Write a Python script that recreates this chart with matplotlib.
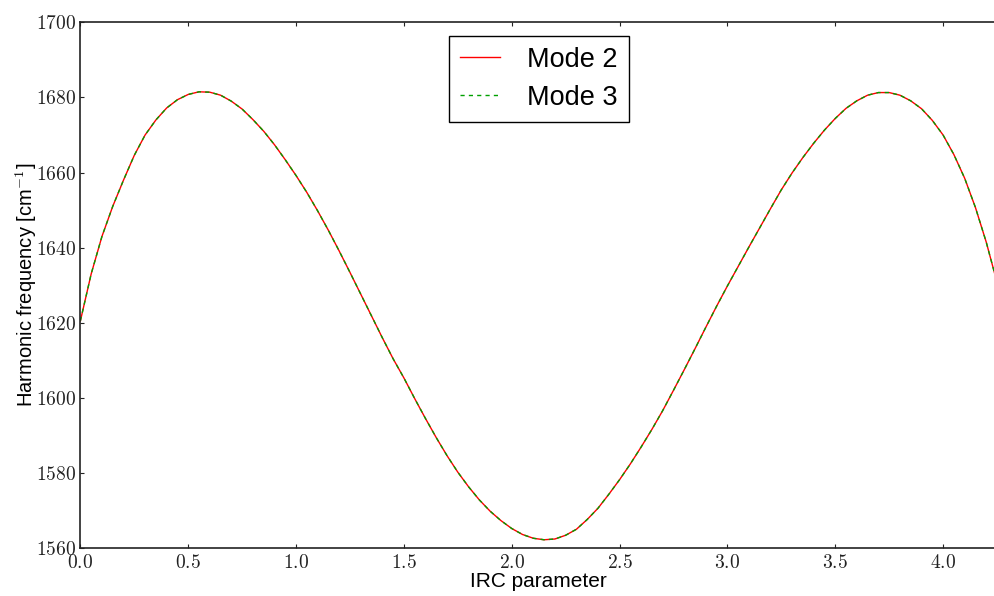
import numpy as np
import matplotlib
matplotlib.use("Agg")
import matplotlib.pyplot as plt
from matplotlib.ticker import FuncFormatter

plt.rcParams['font.family'] = ['Liberation Sans', 'DejaVu Sans']
plt.rcParams['mathtext.fontset'] = 'cm'

# IRC scan, step 0.05
irc = [0.00, 0.05, 0.10, 0.15, 0.20, 0.25, 0.30, 0.35, 0.40, 0.45,
       0.50, 0.55, 0.60, 0.65, 0.70, 0.75, 0.80, 0.85, 0.90, 0.95,
       1.00, 1.05, 1.10, 1.15, 1.20, 1.25, 1.30, 1.35, 1.40, 1.45,
       1.50, 1.55, 1.60, 1.65, 1.70, 1.75, 1.80, 1.85, 1.90, 1.95,
       2.00, 2.05, 2.10, 2.15, 2.20, 2.25, 2.30, 2.35, 2.40, 2.45,
       2.50, 2.55, 2.60, 2.65, 2.70, 2.75, 2.80, 2.85, 2.90, 2.95,
       3.00, 3.05, 3.10, 3.15, 3.20, 3.25, 3.30, 3.35, 3.40, 3.45,
       3.50, 3.55, 3.60, 3.65, 3.70, 3.75, 3.80, 3.85, 3.90, 3.95,
       4.00, 4.05, 4.10, 4.15, 4.20, 4.25]

mode2 = [1620.5, 1633.0, 1643.0, 1651.0, 1658.0, 1664.6, 1670.0, 1674.0, 1677.2, 1679.4,
         1680.8, 1681.5, 1681.4, 1680.6, 1679.0, 1676.9, 1674.1, 1671.0, 1667.4, 1663.4,
         1659.2, 1654.7, 1649.8, 1644.6, 1639.1, 1633.4, 1627.6, 1621.8, 1616.0, 1610.4,
         1605.3, 1599.8, 1594.5, 1589.4, 1584.6, 1580.2, 1576.3, 1572.8, 1569.8, 1567.3,
         1565.2, 1563.6, 1562.6, 1562.2, 1562.4, 1563.4, 1565.0, 1567.6, 1570.6, 1574.3,
         1578.2, 1582.4, 1586.9, 1591.6, 1596.6, 1602.0, 1607.5, 1613.1, 1618.8, 1624.4,
         1629.8, 1635.0, 1640.2, 1645.3, 1650.4, 1655.4, 1659.9, 1664.0, 1667.8, 1671.3,
         1674.4, 1677.1, 1679.1, 1680.6, 1681.3, 1681.3, 1680.6, 1679.1, 1677.0, 1673.9,
         1670.0, 1664.8, 1658.5, 1650.7, 1641.5, 1630.8]

# degenerate pair: mode 3 coincides with mode 2
mode3 = list(mode2)

fig = plt.figure(figsize=(9.95, 5.96), dpi=100)
ax = fig.add_axes([0.0808, 0.0805, 0.9212, 0.882])

ax.plot(irc, mode2, color='#ff0000', lw=1.0, label='Mode 2')
ax.plot(irc, mode3, color='#00a000', lw=1.0, ls='--', dashes=(3, 3), label='Mode 3')

ax.set_xlim(0, 4.25)
ax.set_ylim(1560, 1700)
ax.set_xticks(np.arange(0, 4.01, 0.5))
ax.set_yticks(np.arange(1560, 1701, 20))
ax.xaxis.set_major_formatter(FuncFormatter(lambda v, p: r'$%.1f$' % v))
ax.yaxis.set_major_formatter(FuncFormatter(lambda v, p: r'$%d$' % v))
ax.tick_params(direction='in', length=3, width=0.8, top=True, right=False,
               labelsize=14, colors='#222222')
ax.tick_params(axis='x', pad=4)
ax.tick_params(axis='y', pad=3)
for s in ax.spines.values():
    s.set_linewidth(1.2)
    s.set_color('#222222')

ax.set_xlabel('IRC parameter', fontsize=15, labelpad=0)
ax.set_ylabel(r'Harmonic frequency [cm$^{-1}$]', fontsize=14.5, labelpad=-2)

leg = ax.legend(loc='upper center', fontsize=19.5, fancybox=False, framealpha=1,
                edgecolor='black', handlelength=1.5, handletextpad=1.0,
                borderpad=0.4, labelspacing=0.45, borderaxespad=0.5)
leg.get_frame().set_linewidth(1.0)

fig.savefig('out.png', dpi=100)
